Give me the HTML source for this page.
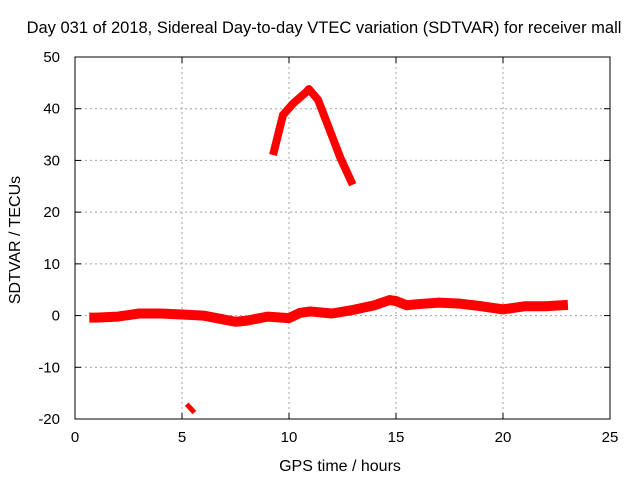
<!DOCTYPE html>
<html><head><meta charset="utf-8"><style>
body{margin:0;background:#fff}
svg{display:block;font-family:"Liberation Sans",sans-serif;font-size:14px}
</style></head><body>
<svg id="c" width="640" height="480"></svg>
<script>
const xTicks=[0,5,10,15,20,25];
const yTicks=[-20,-10,0,10,20,30,40,50];
const bandHours=[0.9,1,2,3,4,5,6,7,7.5,8,9,10,10.5,11,12,13,14,14.7,15,15.5,16,17,18,19,20,21,22,22.8];
const bandValues=[-0.4,-0.4,-0.2,0.4,0.4,0.2,0,-0.8,-1.2,-1,-0.2,-0.5,0.5,0.8,0.4,1.1,2,3,2.8,2,2.2,2.5,2.3,1.8,1.2,1.8,1.8,2];
const arcHours=[9.3,9.72,10.19,10.8,10.93,11.36,11.9,12.4,12.9];
const arcValues=[31.8,38.8,41,43.2,43.8,41.7,35.9,30.5,26];
const lowHours=[5.3,5.5];
const lowValues=[-17.5,-18.4];
const X0=75,X1=610,Y0=419,Y1=57;
const sx=v=>X0+(v-0)/(25-0)*(X1-X0);
const sy=v=>Y0-(v+20)/70*(Y0-Y1);
const svg=document.getElementById('c');const NS='http://www.w3.org/2000/svg';
function mk(t,a,txt){const e=document.createElementNS(NS,t);for(const k in a)e.setAttribute(k,a[k]);if(txt!=null)e.textContent=txt;svg.appendChild(e);return e;}
xTicks.forEach(v=>{const x=sx(v);
 if(v>0&&v<25){const g=mk('line',{x1:x,y1:Y0,x2:x,y2:Y1,stroke:'#a0a0a0','stroke-dasharray':'2,3'});}
 const t=mk('text',{x:x,y:Y0+23,'text-anchor':'middle',fill:'#000','font-size':15},v);
 mk('line',{x1:x,y1:Y0,x2:x,y2:Y0-6,stroke:'#000'});mk('line',{x1:x,y1:Y1,x2:x,y2:Y1+6,stroke:'#000'});});
yTicks.forEach(v=>{const y=sy(v);
 if(v>-20&&v<50){const g=mk('line',{x1:X0,y1:y,x2:X1,y2:y,stroke:'#a0a0a0','stroke-dasharray':'2,3'});}
 const t=mk('text',{x:X0-15,y:y+5,'text-anchor':'end',fill:'#000','font-size':15},v);
 mk('line',{x1:X0,y1:y,x2:X0+6,y2:y,stroke:'#000'});mk('line',{x1:X1,y1:y,x2:X1-6,y2:y,stroke:'#000'});});
const fr=mk('rect',{x:X0,y:Y1,width:X1-X0,height:Y0-Y1,fill:'none',stroke:'#000'});

function series(h,v,w,name){const p=mk('polyline',{points:h.map((t,i)=>sx(t)+','+sy(v[i])).join(' '),fill:'none',stroke:'#ff0000','stroke-width':w,'stroke-linejoin':'round','stroke-linecap':'square'});
 }
series(bandHours,bandValues,10,'sdtvar-band-series');
series(arcHours,arcValues,8,'sdtvar-arc-series');
series(lowHours,lowValues,5,'sdtvar-low-series');
const ti=mk('text',{x:324,y:33,'text-anchor':'middle',fill:'#000','font-size':16.5},'Day 031 of 2018, Sidereal Day-to-day VTEC variation (SDTVAR) for receiver mall');

const xt=mk('text',{x:340,y:471,'text-anchor':'middle',fill:'#000','font-size':16},'GPS time / hours');

const yt=mk('text',{x:0,y:0,'text-anchor':'middle',fill:'#000','font-size':16,transform:'translate(20,240) rotate(-90)'},'SDTVAR / TECUs');

</script>
</body></html>
